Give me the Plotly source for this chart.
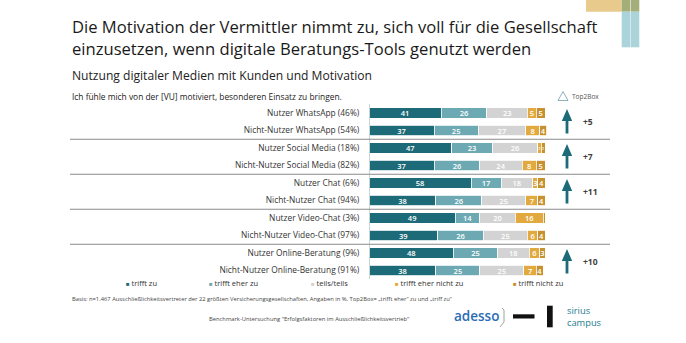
import plotly.graph_objects as go

W, H = 686, 343

# Rows (top to bottom)
rows = [
    "Nutzer WhatsApp (46%)",
    "Nicht-Nutzer WhatsApp (54%)",
    "Nutzer Social Media (18%)",
    "Nicht-Nutzer Social Media (82%)",
    "Nutzer Chat (6%)",
    "Nicht-Nutzer Chat (94%)",
    "Nutzer Video-Chat (3%)",
    "Nicht-Nutzer Video-Chat (97%)",
    "Nutzer Online-Beratung (9%)",
    "Nicht-Nutzer Online-Beratung (91%)",
]

# Answer shares in %
trifft_zu = [41, 37, 47, 37, 58, 38, 49, 39, 48, 38]
trifft_eher_zu = [26, 25, 23, 26, 17, 26, 14, 26, 25, 25]
teils_teils = [23, 27, 26, 24, 18, 25, 20, 25, 18, 25]
trifft_eher_nicht_zu = [5, 8, 2, 8, 3, 7, 16, 6, 6, 7]
trifft_nicht_zu = [5, 4, 2, 5, 4, 4, 1, 4, 3, 4]

series_names = ["trifft zu", "trifft eher zu", "teils/teils",
                "trifft eher nicht zu", "trifft nicht zu"]
series_values = [trifft_zu, trifft_eher_zu, teils_teils,
                 trifft_eher_nicht_zu, trifft_nicht_zu]
series_colors = ["#1d6b78", "#6ca9b2", "#d3d3d3", "#e2aa3e", "#c8912f"]

# Top2Box difference per user / non-user pair
pair_rows = [(0, 1), (2, 3), (4, 5), (6, 7), (8, 9)]
top2box_diff = ["+5", "+7", "+11", None, "+10"]

FONT = "Open Sans"
TEAL = "#1d6b78"

# ---- layout geometry (pixels) ----
X0_PX = 369          # pixel column of 0 %
PX_PER_PCT = 1.76    # pixels per percentage point
ROW0_PX = 113.0      # centre of first row
ROW_PITCH = 17.5


def dx(px):
    return (px - X0_PX) / PX_PER_PCT


def fx(px):
    return px / W


def fy(py):
    return 1 - py / H


y_top_px = ROW0_PX - ROW_PITCH / 2
y_bot_px = ROW0_PX + ROW_PITCH * (len(rows) - 1) + ROW_PITCH / 2

fig = go.Figure()

ypos = list(range(len(rows)))
for name, vals, col in zip(series_names, series_values, series_colors):
    fig.add_trace(go.Bar(
        name=name,
        y=ypos,
        x=vals,
        orientation="h",
        width=0.6,
        marker=dict(color=col, line=dict(color="white", width=0.8)),
        text=[str(v) if v >= 2 else "" for v in vals],
        textposition="inside",
        insidetextanchor="middle",
        textangle=0,
        constraintext="none",
        textfont=dict(family=FONT, color="white", weight=600,
                      size=[7.5 if v >= 3 else 4 for v in vals]),
        hoverinfo="skip",
        showlegend=False,
    ))

shapes = []
annotations = []

# group separators
for k in range(1, len(pair_rows)):
    yy = pair_rows[k][0] - 0.5
    shapes.append(dict(type="line", xref="x", yref="y",
                       x0=dx(70), x1=dx(610), y0=yy, y1=yy,
                       line=dict(color="#8a8a8a", width=1)))

# Top2Box arrows
ax = dx(567)
hw = 5.2 / PX_PER_PCT
sw = 1.4 / PX_PER_PCT
for (r1, r2), diff in zip(pair_rows, top2box_diff):
    if diff is None:
        continue
    yt = r1 - 4 / ROW_PITCH
    yh = yt + 12 / ROW_PITCH
    yb = r2 + 3 / ROW_PITCH
    path = (f"M {ax - sw},{yb} L {ax - sw},{yh} L {ax - hw},{yh} L {ax},{yt} "
            f"L {ax + hw},{yh} L {ax + sw},{yh} L {ax + sw},{yb} Z")
    shapes.append(dict(type="path", xref="x", yref="y", path=path,
                       fillcolor=TEAL, line=dict(width=0)))
    annotations.append(dict(x=dx(581), y=(r1 + r2) / 2, xref="x", yref="y",
                            text=f"<b>{diff}</b>", showarrow=False,
                            xanchor="left", yanchor="middle",
                            font=dict(family=FONT, size=8.5, color="#404040")))

# Top2Box key
shapes.append(dict(type="path", xref="paper", yref="paper",
                   path=f"M {fx(558)},{fy(100.5)} L {fx(568)},{fy(100.5)} "
                        f"L {fx(563)},{fy(91.5)} Z",
                   line=dict(color="#6f9ea6", width=0.8)))
annotations.append(dict(x=fx(569.5), y=fy(96.5), xref="paper", yref="paper",
                        text="Top2Box", showarrow=False, xanchor="left",
                        yanchor="middle",
                        font=dict(family=FONT, size=6.5, color="#555555")))

# Decorative corner blocks
shapes += [
    dict(type="rect", xref="paper", yref="paper", x0=fx(586), x1=fx(621.7),
         y0=fy(11.7), y1=fy(0), fillcolor="#e8cb8c", line=dict(width=0)),
    dict(type="rect", xref="paper", yref="paper", x0=fx(621.7), x1=fx(639.3),
         y0=fy(11.7), y1=fy(0), fillcolor="#a3ae78", line=dict(width=0)),
    dict(type="rect", xref="paper", yref="paper", x0=fx(621.7), x1=fx(639.3),
         y0=fy(47.3), y1=fy(11.7), fillcolor="#abd3da", line=dict(width=0)),
    dict(type="line", xref="paper", yref="paper", x0=fx(630.5), x1=fx(630.5),
         y0=fy(47.3), y1=fy(0), line=dict(color="#e6f1f2", width=0.7)),
]

# Titles
annotations += [
    dict(x=fx(70), y=fy(37.8), xref="paper", yref="paper",
         text="Die Motivation der Vermittler nimmt zu, sich voll für die Gesellschaft"
              "<br>einzusetzen, wenn digitale Beratungs-Tools genutzt werden",
         showarrow=False, xanchor="left", yanchor="middle", align="left",
         font=dict(family=FONT, size=16.6, color="#1a1a1a")),
    dict(x=fx(70), y=fy(75.5), xref="paper", yref="paper",
         text="Nutzung digitaler Medien mit Kunden und Motivation",
         showarrow=False, xanchor="left", yanchor="middle",
         font=dict(family=FONT, size=12.1, color="#222222")),
    dict(x=fx(70), y=fy(96), xref="paper", yref="paper",
         text="Ich fühle mich von der [VU] motiviert, besonderen Einsatz zu bringen.",
         showarrow=False, xanchor="left", yanchor="middle",
         font=dict(family=FONT, size=8.4, color="#222222")),
]

# Legend row
legend_x = [124, 207, 309, 393, 511]
for name, col, lx in zip(series_names, series_colors, legend_x):
    annotations.append(dict(
        x=fx(lx), y=fy(282.5), xref="paper", yref="paper",
        text=f"<span style='color:{col};font-size:6px'>■</span> {name}",
        showarrow=False, xanchor="left", yanchor="middle",
        font=dict(family=FONT, size=7.5, color="#333333")))

# Footnotes
annotations += [
    dict(x=fx(70), y=fy(299), xref="paper", yref="paper",
         text="Basis: n=1.467 Ausschließlichkeitsvertreter der 22 größten "
              "Versicherungsgesellschaften, Angaben in %, Top2Box= „trifft eher“ "
              "zu und „triff zu“",
         showarrow=False, xanchor="left", yanchor="middle",
         font=dict(family=FONT, size=5.8, color="#444444")),
    dict(x=fx(207), y=fy(319), xref="paper", yref="paper",
         text="Benchmark-Untersuchung \"Erfolgsfaktoren im Ausschließlichkeitsvertrieb\"",
         showarrow=False, xanchor="left", yanchor="middle",
         font=dict(family=FONT, size=5.8, color="#444444")),
]

# Logos
annotations += [
    dict(x=fx(452), y=fy(316), xref="paper", yref="paper", text="adesso",
         showarrow=False, xanchor="left", yanchor="middle",
         font=dict(family=FONT, size=13.5, color="#2b6db5", weight=600)),
    dict(x=fx(565), y=fy(316.5), xref="paper", yref="paper",
         text="sirius<br>campus", align="left",
         showarrow=False, xanchor="left", yanchor="middle",
         font=dict(family=FONT, size=9.3, color="#247d90")),
]
shapes += [
    dict(type="path", xref="paper", yref="paper",
         path=f"M {fx(502)},{fy(308)} L {fx(504)},{fy(310)} L {fx(504)},{fy(322)} "
              f"L {fx(500)},{fy(327)}",
         line=dict(color="#8a8a8a", width=0.8)),
    dict(type="rect", xref="paper", yref="paper", x0=fx(513), x1=fx(534.5),
         y0=fy(318.5), y1=fy(314.3), fillcolor="#111111", line=dict(width=0)),
    dict(type="rect", xref="paper", yref="paper", x0=fx(547), x1=fx(552.7),
         y0=fy(327.3), y1=fy(305.7), fillcolor="#111111", line=dict(width=0)),
]

fig.update_layout(
    width=W, height=H, autosize=False,
    margin=dict(l=0, r=0, t=0, b=0),
    paper_bgcolor="white", plot_bgcolor="white",
    barmode="stack", bargap=0.4,
    showlegend=False,
    xaxis=dict(range=[dx(0), dx(W)], visible=False, fixedrange=True),
    yaxis=dict(
        domain=[fy(y_bot_px), fy(y_top_px)],
        range=[len(rows) - 0.5, -0.5],
        anchor="free", position=fx(X0_PX),
        tickvals=ypos, ticktext=rows, ticks="",
        ticklabelstandoff=8,
        showgrid=False, zeroline=False,
        showline=True, linecolor="#c9d6d8", linewidth=1,
        tickfont=dict(family=FONT, size=8.4, color="#333333"),
        fixedrange=True,
    ),
    shapes=shapes,
    annotations=annotations,
)

fig.write_html("out.html")
